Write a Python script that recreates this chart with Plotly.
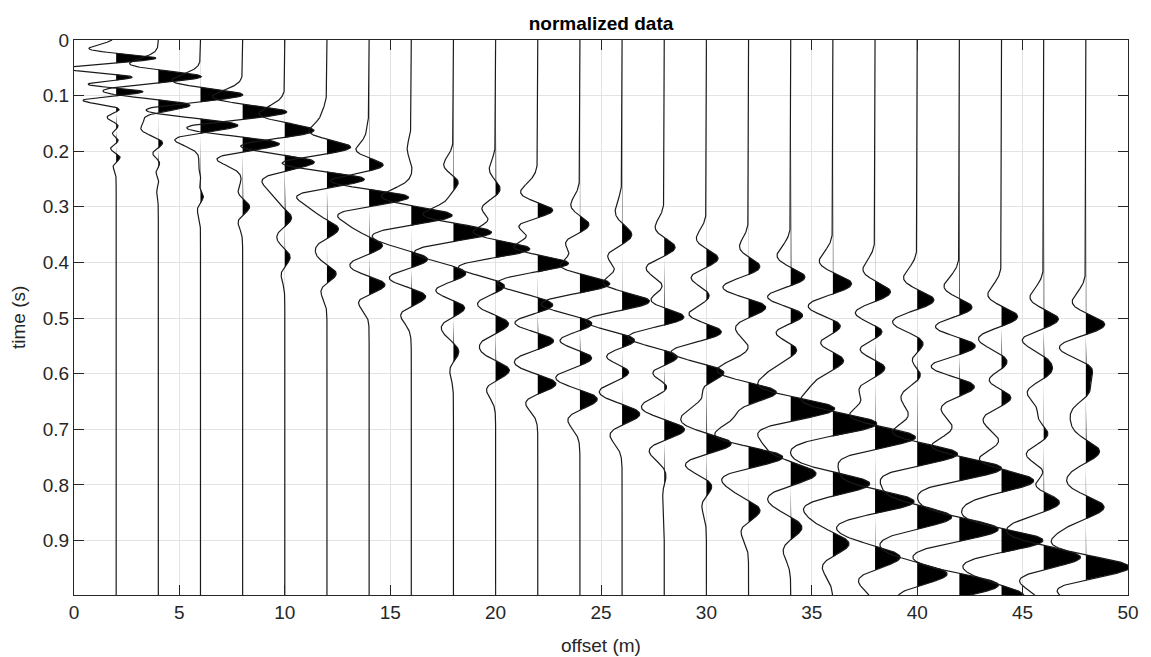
import numpy as np
import plotly.graph_objects as go

# Receiver offsets (m) of the 24 traces
offsets = [2, 4, 6, 8, 10, 12, 14, 16, 18, 20, 22, 24,
           26, 28, 30, 32, 34, 36, 38, 40, 42, 44, 46, 48]

# Dominant frequency (Hz) of the wavelet on each trace
peak_freq = [24, 18, 16, 15, 13, 13, 13, 12, 12, 12, 12, 11,
             11, 11, 11, 11, 10, 10, 10, 10, 10, 10, 10, 10]

# Arrival times (s) of the events on each trace
event_times = [
    [0.033, 0.068, 0.092, 0.122, 0.155, 0.180, 0.210],
    [0.066, 0.117, 0.140, 0.185, 0.220, 0.250],
    [0.099, 0.153, 0.250, 0.280],
    [0.130, 0.186, 0.300],
    [0.165, 0.216, 0.240, 0.320, 0.390],
    [0.160, 0.195, 0.249, 0.340, 0.420],
    [0.190, 0.228, 0.282, 0.370, 0.440],
    [0.225, 0.250, 0.270, 0.315, 0.395, 0.460],
    [0.258, 0.295, 0.345, 0.420, 0.480, 0.560],
    [0.262, 0.285, 0.330, 0.375, 0.440, 0.510, 0.594],
    [0.285, 0.310, 0.355, 0.400, 0.477, 0.540, 0.618],
    [0.335, 0.390, 0.438, 0.510, 0.570, 0.645],
    [0.330, 0.355, 0.420, 0.470, 0.540, 0.594, 0.672],
    [0.375, 0.430, 0.455, 0.498, 0.570, 0.620, 0.700, 0.780],
    [0.395, 0.450, 0.475, 0.525, 0.597, 0.636, 0.726, 0.800],
    [0.410, 0.480, 0.516, 0.552, 0.633, 0.670, 0.750, 0.846],
    [0.430, 0.495, 0.552, 0.663, 0.780, 0.876],
    [0.440, 0.516, 0.573, 0.690, 0.798, 0.906],
    [0.455, 0.525, 0.588, 0.660, 0.714, 0.830, 0.930],
    [0.470, 0.535, 0.560, 0.600, 0.690, 0.744, 0.858, 0.960],
    [0.485, 0.540, 0.560, 0.620, 0.710, 0.770, 0.880, 0.980],
    [0.500, 0.560, 0.590, 0.640, 0.730, 0.792, 0.900, 1.000],
    [0.505, 0.565, 0.600, 0.660, 0.710, 0.780, 0.830, 0.930],
    [0.513, 0.590, 0.630, 0.740, 0.840, 0.948],
]

# Normalized amplitudes of those events
event_amps = [
    [0.90, 0.80, 0.95, 0.20, 0.10, 0.10, 0.10],
    [0.95, 0.90, 0.30, 0.15, 0.10, 0.05],
    [0.95, 0.85, 0.06, 0.10],
    [1.00, 0.85, 0.15],
    [0.85, 0.90, 0.20, 0.15, 0.12],
    [0.10, 0.75, 0.95, 0.25, 0.20],
    [0.05, 0.50, 0.95, 0.30, 0.35],
    [0.10, 0.10, 0.10, 0.95, 0.40, 0.35],
    [0.30, 0.30, 0.95, 0.35, 0.30, 0.12],
    [0.15, 0.15, 0.35, 0.95, 0.30, 0.30, 0.30],
    [0.05, 0.60, 0.55, 0.95, 0.40, 0.40, 0.40],
    [0.30, 0.30, 0.85, 0.45, 0.40, 0.40],
    [0.08, 0.25, 0.20, 0.75, 0.50, 0.35, 0.40],
    [0.30, 0.15, 0.33, 0.70, 0.50, 0.30, 0.45, 0.05],
    [0.33, 0.20, 0.20, 0.50, 0.65, 0.35, 0.55, 0.15],
    [0.30, 0.55, 0.20, 0.20, 0.80, 0.30, 0.75, 0.25],
    [0.45, 0.55, 0.35, 0.95, 0.55, 0.25],
    [0.45, 0.40, 0.40, 0.95, 0.80, 0.35],
    [0.40, 0.35, 0.35, 0.15, 0.95, 0.85, 0.55],
    [0.45, 0.30, 0.30, 0.35, 0.15, 0.95, 0.75, 0.65],
    [0.50, 0.40, 0.40, 0.50, 0.10, 0.95, 0.85, 0.85],
    [0.45, 0.25, 0.40, 0.45, 0.15, 0.75, 0.90, 0.50],
    [0.45, 0.35, 0.40, 0.15, 0.25, 0.35, 0.55, 0.80],
    [0.45, 0.40, 0.35, 0.30, 0.40, 0.95],
]

x_ticks = [0, 5, 10, 15, 20, 25, 30, 35, 40, 45, 50]
y_ticks = [0, 0.1, 0.2, 0.3, 0.4, 0.5, 0.6, 0.7, 0.8, 0.9]
y_tick_text = ["0", "0.1", "0.2", "0.3", "0.4", "0.5", "0.6", "0.7", "0.8", "0.9"]

dt = 0.001
t_max = 0.998
wiggle_scale = 2.2   # horizontal size (m) of a unit amplitude
lobe_depth = 2.6     # side-lobe strength of the wavelet (2 = Ricker)

t = np.arange(0.0, t_max + dt / 2, dt)


def wavelet(tau, f, c=lobe_depth):
    # Ricker-type pulse; zero crossings kept where a Ricker of frequency f has them
    u2 = (np.pi * f * tau) ** 2 * (2.0 / c)
    return (1.0 - c * u2) * np.exp(-u2)


fig = go.Figure()
ink = "#262626"

for off, f, times, amps in zip(offsets, peak_freq, event_times, event_amps):
    s = np.zeros_like(t)
    for t0, a in zip(times, amps):
        s += a * wavelet(t - t0, f)
    x_line = off + wiggle_scale * s
    x_pos = off + wiggle_scale * np.maximum(s, 0.0)

    # positive lobes filled in black
    fig.add_trace(go.Scatter(
        x=np.concatenate([x_pos, [off, off]]),
        y=np.concatenate([t, [t[-1], t[0]]]),
        mode="lines", fill="toself", fillcolor="black",
        line=dict(width=0), hoverinfo="skip", showlegend=False,
    ))
    # the wiggle itself
    fig.add_trace(go.Scatter(
        x=x_line, y=t, mode="lines",
        line=dict(color="#1a1a1a", width=1.2),
        hoverinfo="skip", showlegend=False,
    ))

font_family = "Liberation Sans, Arial, Helvetica, sans-serif"

fig.update_layout(
    width=1151, height=657,
    margin=dict(l=74, r=14, t=40, b=62),
    paper_bgcolor="white", plot_bgcolor="white",
    font=dict(family=font_family, size=19, color=ink),
    title=dict(text="<b>normalized data</b>", x=0.5, xref="paper",
               y=1 - 23 / 657, yref="container", yanchor="middle",
               xanchor="center", font=dict(size=19, color="black")),
    showlegend=False,
)

fig.update_xaxes(
    range=[0, 50], tickvals=x_ticks, ticktext=[str(v) for v in x_ticks],
    showgrid=True, gridcolor="#e3e3e3", gridwidth=1,
    zeroline=False, showline=True, linecolor=ink, linewidth=1,
    mirror="ticks", ticks="inside", ticklen=10, tickcolor=ink,
    tickfont=dict(size=19, color=ink),
)
fig.update_yaxes(
    range=[t_max, 0], tickvals=y_ticks, ticktext=y_tick_text,
    showgrid=True, gridcolor="#e3e3e3", gridwidth=1,
    zeroline=False, showline=True, linecolor=ink, linewidth=1,
    mirror="ticks", ticks="inside", ticklen=10, tickcolor=ink,
    tickfont=dict(size=19, color=ink),
)

fig.add_annotation(text="offset (m)", xref="paper", yref="paper",
                   x=0.5, y=-(645 - 595) / 555, xanchor="center",
                   yanchor="middle", showarrow=False,
                   font=dict(size=19, color=ink))
fig.add_annotation(text="time (s)", xref="paper", yref="paper",
                   x=(18 - 74) / 1063, y=0.5, xanchor="center",
                   yanchor="middle", textangle=-90, showarrow=False,
                   font=dict(size=19, color=ink))

fig.write_html("out.html")
